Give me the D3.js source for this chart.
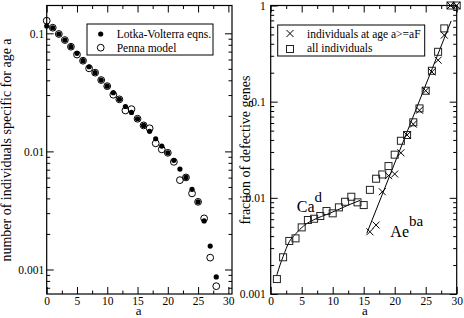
<!DOCTYPE html>
<html>
<head>
<meta charset="utf-8">
<script src="https://cdnjs.cloudflare.com/ajax/libs/d3/7.8.5/d3.min.js"></script>
<style>
body { margin: 0; background: #fff; }
svg { display: block; font-family: "Liberation Serif", "Times New Roman", serif; }
svg text { font-family: "Liberation Serif", "Times New Roman", serif; }
</style>
</head>
<body>
<svg id="chart" width="464" height="318"></svg>
<script>
// ---- left panel: number of individuals of age a
var ageLeft = [0, 1, 2, 3, 4, 5, 6, 7, 8, 9, 10, 11, 12, 13, 14, 15, 16, 17, 18, 19, 20, 21, 22, 23, 24, 25, 26, 27, 28];
var lotkaVolterra = [0.1153, 0.1115, 0.0987, 0.0877, 0.0770, 0.0677, 0.0586, 0.0521, 0.0464, 0.0402,
                     0.0357, 0.0314, 0.0276, 0.0240, 0.0214, 0.0189, 0.0166, 0.0148, 0.0128, 0.0111,
                     0.00973, 0.0084, 0.00708, 0.00602, 0.00477, 0.00374, 0.00258, 0.00158, 0.000865];
var penna = [0.1279, 0.1115, 0.0987, 0.0877, 0.0770, 0.0661, 0.0586, 0.0505, 0.0464, 0.0402,
             0.0357, 0.0302, 0.0276, 0.0222, 0.0228, 0.0189, 0.0166, 0.0157, 0.0117, 0.0104,
             0.00973, 0.00816, 0.00571, 0.00602, 0.00441, 0.00374, 0.00271, 0.00126, 0.000722];

// ---- right panel: fraction of defective genes
var ageAll = [1, 2, 3, 4, 5, 6, 7, 8, 9, 10, 11, 12, 13, 14, 15, 16, 17, 18, 19, 20, 21, 22, 23, 24, 25, 26, 27, 28, 29, 30];
var allIndividuals = [0.00143, 0.00241, 0.00356, 0.00379, 0.00493, 0.00588, 0.00606, 0.00647, 0.00729, 0.0069,
                      0.00796, 0.0091, 0.01026, 0.00898, 0.00841, 0.0121, 0.0158, 0.0175, 0.0214, 0.0281,
                      0.0392, 0.045, 0.061, 0.0851, 0.130, 0.2095, 0.330, 0.578, 1.0, 1.0];
var ageOld = [16, 17, 18, 19, 20, 21, 22, 23, 24, 25, 26, 27, 28, 29, 30];
var oldIndividuals = [0.00444, 0.00521, 0.01157, 0.0170, 0.0177, 0.0294, 0.045, 0.0584, 0.0815, 0.130,
                      0.204, 0.270, 0.492, 1.0, 1.0];

// fit curves, points
var powFitAge = [1, 1.5, 2, 3, 4, 5.3, 7.4, 9, 10.6, 12.5, 14.4];
var powFitVal = [0.00158, 0.002, 0.00245, 0.0035, 0.0042, 0.0051, 0.0061, 0.0067, 0.0074, 0.0084, 0.0094];
var expFitAge = [15.5, 29.1];
var expFitVal = [0.00427, 0.69];

// ticks
var xMajor = [0, 5, 10, 15, 20, 25, 30];
var xMinor = [2.5, 7.5, 12.5, 17.5, 22.5, 27.5];
var yMajorLeft = [0.001, 0.01, 0.1];
var yLabelsLeft = ["0.001", "0.01", "0.1"];
var yMajorRight = [0.001, 0.01, 0.1, 1];
var yLabelsRight = ["0.001", "0.01", "0.1", "1"];

var serif = '"Liberation Serif", "Times New Roman", serif';
var svg = d3.select('#chart');
var top_ = 5.5, bottom = 294;

var xL = d3.scaleLinear().domain([0, 30.6]).range([46.7, 232]);
var yL = d3.scaleLog().domain([0.00062, 0.172]).range([bottom, top_]);
var xR = d3.scaleLinear().domain([0, 30]).range([270.7, 456.7]);
var yR = d3.scaleLog().domain([0.001, 1]).range([bottom, top_]);

function isDecade(d) {
    var l = Math.log10(d);
    return Math.abs(l - Math.round(l)) < 1e-6;
}

function drawFrame(x, y, yMajor, yLabels, yPad) {
    var g = svg.append('g');
    var x0 = x.range()[0], x1 = x.range()[1];
    var yMinor = y.ticks().filter(function(d) { return !isDecade(d); });

    // bottom
    g.append('g').attr('transform', 'translate(0,' + bottom + ')')
        .call(d3.axisBottom(x).tickValues(xMajor).tickSize(-7).tickSizeOuter(0).tickPadding(3)
            .tickFormat(function(d) { return d; }));
    g.append('g').attr('transform', 'translate(0,' + bottom + ')')
        .call(d3.axisBottom(x).tickValues(xMinor).tickSize(-3.5).tickSizeOuter(0).tickFormat(''));
    // top
    g.append('g').attr('transform', 'translate(0,' + top_ + ')')
        .call(d3.axisTop(x).tickValues(xMajor).tickSize(-7).tickSizeOuter(0).tickFormat(''));
    g.append('g').attr('transform', 'translate(0,' + top_ + ')')
        .call(d3.axisTop(x).tickValues(xMinor).tickSize(-3.5).tickSizeOuter(0).tickFormat(''));
    // left
    g.append('g').attr('transform', 'translate(' + x0 + ',0)')
        .call(d3.axisLeft(y).tickValues(yMajor).tickSize(-7).tickSizeOuter(0).tickPadding(yPad)
            .tickFormat(function(d, i) { return yLabels[i]; }));
    g.append('g').attr('transform', 'translate(' + x0 + ',0)')
        .call(d3.axisLeft(y).tickValues(yMinor).tickSize(-3.5).tickSizeOuter(0).tickFormat(''));
    // right
    g.append('g').attr('transform', 'translate(' + x1 + ',0)')
        .call(d3.axisRight(y).tickValues(yMajor).tickSize(-7).tickSizeOuter(0).tickFormat(''));
    g.append('g').attr('transform', 'translate(' + x1 + ',0)')
        .call(d3.axisRight(y).tickValues(yMinor).tickSize(-3.5).tickSizeOuter(0).tickFormat(''));

    g.selectAll('.domain').remove();
    g.selectAll('g').attr('font-family', serif).attr('font-size', 11.5);
    g.selectAll('.tick line').attr('stroke', '#000').attr('stroke-width', 1);
    g.selectAll('.tick text').style('font-family', serif)
        .style('font-size', '11.5px').attr('fill', '#000');

    g.append('rect')
        .attr('x', x0).attr('y', top_)
        .attr('width', x1 - x0).attr('height', bottom - top_)
        .attr('fill', 'none').attr('stroke', '#000').attr('stroke-width', 1.2);
    return g;
}

drawFrame(xL, yL, yMajorLeft, yLabelsLeft, 2.5);
drawFrame(xR, yR, yMajorRight, yLabelsRight, 5);

// axis titles
svg.append('text')
    .attr('transform', 'translate(11,150) rotate(-90)')
    .attr('text-anchor', 'middle').attr('font-size', 14)
    .text('number of individuals specific for age a');
svg.append('text')
    .attr('transform', 'translate(250,150) rotate(-90)')
    .attr('text-anchor', 'middle').attr('font-size', 14)
    .text('fraction of defective genes');
svg.append('text').attr('x', xL(15.2)).attr('y', 315)
    .attr('text-anchor', 'middle').attr('font-size', 13).text('a');
svg.append('text').attr('x', xR(15.2)).attr('y', 315)
    .attr('text-anchor', 'middle').attr('font-size', 13).text('a');

// ---- left marks
var left = svg.append('g');
left.selectAll('.lv').data(ageLeft).enter().append('circle')
    .attr('class', 'lv')
    .attr('cx', function(d) { return xL(d); })
    .attr('cy', function(d, i) { return yL(lotkaVolterra[i]); })
    .attr('r', 2.6).attr('fill', '#000');
left.selectAll('.penna').data(ageLeft).enter().append('circle')
    .attr('class', 'penna')
    .attr('cx', function(d) { return xL(d); })
    .attr('cy', function(d, i) { return yL(penna[i]); })
    .attr('r', 3.4).attr('fill', 'none').attr('stroke', '#000').attr('stroke-width', 1);

// ---- right marks
var right = svg.append('g');
var lineR = d3.line()
    .x(function(d) { return xR(d[0]); })
    .y(function(d) { return yR(d[1]); });

right.append('path')
    .datum(powFitAge.map(function(a, i) { return [a, powFitVal[i]]; }))
    .attr('d', lineR.curve(d3.curveMonotoneX))
    .attr('fill', 'none').attr('stroke', '#000').attr('stroke-width', 1);
right.append('path')
    .datum(expFitAge.map(function(a, i) { return [a, expFitVal[i]]; }))
    .attr('d', lineR.curve(d3.curveLinear))
    .attr('fill', 'none').attr('stroke', '#000').attr('stroke-width', 1);

var sq = 7;
right.selectAll('.all').data(ageAll).enter().append('rect')
    .attr('class', 'all')
    .attr('x', function(d) { return xR(d) - sq / 2; })
    .attr('y', function(d, i) { return yR(allIndividuals[i]) - sq / 2; })
    .attr('width', sq).attr('height', sq)
    .attr('fill', 'none').attr('stroke', '#222').attr('stroke-width', 1);

var crossPath = 'M-3.5,-3.5L3.5,3.5M-3.5,3.5L3.5,-3.5';
right.selectAll('.old').data(ageOld).enter().append('path')
    .attr('class', 'old')
    .attr('transform', function(d, i) { return 'translate(' + xR(d) + ',' + yR(oldIndividuals[i]) + ')'; })
    .attr('d', crossPath)
    .attr('fill', 'none').attr('stroke', '#000').attr('stroke-width', 1);

// formula labels
var ca = svg.append('text').attr('x', xR(4.2)).attr('y', yR(0.0072)).attr('font-size', 16);
ca.append('tspan').text('Ca');
ca.append('tspan').attr('dy', -10).attr('font-size', 15).text('d');
var ae = svg.append('text').attr('x', xR(19.3)).attr('y', yR(0.00394)).attr('font-size', 16);
ae.append('tspan').text('Ae');
ae.append('tspan').attr('dy', -11).attr('font-size', 15).text('ba');

// ---- legends
var legL = svg.append('g');
legL.append('rect').attr('x', 87).attr('y', 24).attr('width', 126).attr('height', 31)
    .attr('fill', '#fff').attr('stroke', '#000').attr('stroke-width', 1);
legL.append('circle').attr('cx', 100.7).attr('cy', 34).attr('r', 2.6).attr('fill', '#000');
legL.append('circle').attr('cx', 100.7).attr('cy', 47.7).attr('r', 3.4)
    .attr('fill', 'none').attr('stroke', '#000');
legL.append('text').attr('x', 116.7).attr('y', 37.5).attr('font-size', 11.5).text('Lotka-Volterra eqns.');
legL.append('text').attr('x', 116.7).attr('y', 51.5).attr('font-size', 11.5).text('Penna model');

var legR = svg.append('g');
legR.append('rect').attr('x', 277.7).attr('y', 25).attr('width', 147).attr('height', 31)
    .attr('fill', '#fff').attr('stroke', '#000').attr('stroke-width', 1);
legR.append('path').attr('transform', 'translate(290,33.5)').attr('d', crossPath)
    .attr('stroke', '#000').attr('fill', 'none');
legR.append('rect').attr('x', 290 - sq / 2).attr('y', 49 - sq / 2).attr('width', sq).attr('height', sq)
    .attr('fill', 'none').attr('stroke', '#222');
legR.append('text').attr('x', 307).attr('y', 37.5).attr('font-size', 11.5).text('individuals at age a>=aF');
legR.append('text').attr('x', 307).attr('y', 52).attr('font-size', 11.5).text('all individuals');
</script>
</body>
</html>
